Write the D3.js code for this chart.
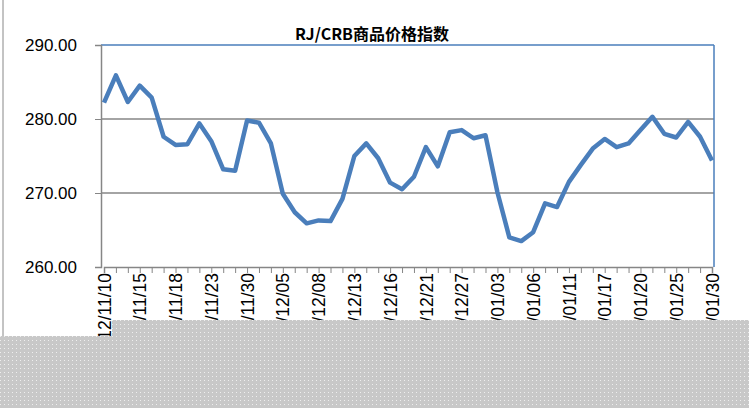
<!DOCTYPE html><html><head><meta charset="utf-8"><script src="https://cdn.jsdelivr.net/npm/d3@7"></script>
<style>body{margin:0;background:#fff}svg{font-family:Calibri,"Liberation Sans",Arial,sans-serif}</style></head><body>
<svg id="c" width="749" height="408"></svg>
<script>
const values=[282.2,285.9,282.3,284.5,282.9,277.6,276.5,276.6,279.4,277.0,273.2,273.0,279.8,279.5,276.7,269.9,267.4,265.9,266.3,266.2,269.2,275.0,276.7,274.7,271.4,270.5,272.2,276.2,273.6,278.2,278.5,277.4,277.8,270.1,264.0,263.5,264.7,268.6,268.1,271.5,273.8,276.0,277.3,276.2,276.7,278.5,280.3,278.0,277.5,279.6,277.6,274.4];
const tickLabels=["12/11/10","12/11/15","12/11/18","12/11/23","12/11/30","12/12/05","12/12/08","12/12/13","12/12/16","12/12/21","12/12/27","13/01/03","13/01/06","13/01/11","13/01/17","13/01/20","13/01/25","13/01/30"];
const yTicks=[260,270,280,290];
const title="RJ/CRB商品价格指数";
const svg=d3.select("#c");
const L=101,R=714,T=45,B=267;
const x=d3.scaleLinear().domain([0,values.length-1]).range([L+3,R-2]);
const y=d3.scaleLinear().domain([260,290]).range([B,T]);
svg.append("line").attr("x1",3).attr("x2",3).attr("y1",0).attr("y2",408).attr("stroke","#888");
svg.append("g").selectAll("line").data(yTicks.slice(1)).join("line").attr("x1",L).attr("x2",R).attr("y1",d=>y(d)).attr("y2",d=>y(d)).attr("stroke",d=>d==290?"#4a7ebb":"#868686").attr("stroke-width",1.5);
svg.append("line").attr("x1",R).attr("x2",R).attr("y1",T).attr("y2",B).attr("stroke","#4a7ebb").attr("stroke-width",1.5);
const ya=d3.axisLeft(y).tickValues(yTicks).tickFormat(d3.format(".2f")).tickSize(6);
svg.append("g").attr("transform",`translate(${L},0)`).call(ya).call(g=>{g.select(".domain").attr("stroke","#868686").attr("stroke-width",1.5);g.selectAll(".tick line").attr("stroke","#868686");g.selectAll("text").attr("font-size",17).attr("fill","#000").attr("x",-24);});
const xa=d3.axisBottom(x).tickValues(d3.range(values.length)).tickSize(6).tickFormat(d=>d%3==0?tickLabels[d/3]:"");
svg.append("g").attr("transform",`translate(0,${B})`).call(xa).call(g=>{g.select(".domain").attr("stroke","#868686").attr("stroke-width",1.5);g.selectAll(".tick line").attr("stroke","#868686");g.selectAll("text").attr("font-size",17.5).attr("fill","#000").attr("transform","rotate(-90)").attr("text-anchor","end").attr("x",-6).attr("y",0).attr("dy","0.35em");});
svg.append("path").datum(values).attr("fill","none").attr("stroke","#4a7ebb").attr("stroke-width",4.5).attr("stroke-linejoin","round").attr("d",d3.line().x((d,i)=>x(i)).y(d=>y(d)));
svg.append("text").attr("x",372).attr("y",40).attr("text-anchor","middle").attr("font-size",16).attr("font-weight","bold").attr("font-family","'Noto Sans CJK SC',sans-serif").text(title);
const defs=svg.append("defs");
const p=defs.append("pattern").attr("id","dots").attr("width",4).attr("height",4).attr("patternUnits","userSpaceOnUse");
p.append("rect").attr("width",4).attr("height",4).attr("fill","#c8c8c8");
p.append("rect").attr("width",1).attr("height",1).attr("fill","#eeeeee");
svg.append("path").attr("d","M0,336 H112 V320 H749 V408 H0 Z").attr("fill","url(#dots)");
</script></body></html>
